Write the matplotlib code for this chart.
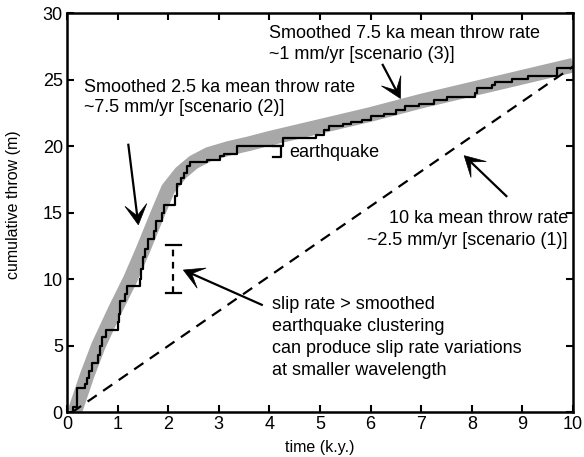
import numpy as np
import matplotlib
matplotlib.use("Agg")
import matplotlib.pyplot as plt
from matplotlib.patches import Polygon

plt.rcParams['font.family'] = ['Liberation Sans', 'DejaVu Sans']

# Earthquake record: event times (k.y.) and cumulative throw after each event (m)
event_time = [0.12, 0.12, 0.20, 0.36, 0.40, 0.44, 0.49, 0.62, 0.66, 0.69, 0.78,
              1.00, 1.02, 1.04, 1.15, 1.19, 1.44, 1.47, 1.50, 1.55, 1.60,
              1.72, 1.76, 1.87, 1.92, 2.13, 2.18, 2.26, 2.32, 2.38, 2.44,
              2.76, 3.02, 3.10, 3.37, 4.26, 4.92, 5.08, 5.18, 5.45, 5.62,
              5.84, 6.00, 6.27, 6.50, 6.69, 6.95, 7.25, 7.51, 8.07, 8.10,
              8.40, 8.45, 8.80, 9.12, 9.68, 10.0]
event_throw = [0.0, 0.4, 1.8, 2.1, 2.6, 3.1, 3.7, 4.3, 5.0, 5.7, 6.2,
               6.8, 7.4, 8.4, 8.9, 9.5, 10.0, 10.8, 11.7, 12.3, 13.0,
               13.6, 14.4, 15.0, 15.6, 16.3, 17.2, 17.6, 18.0, 18.5, 18.8,
               19.0, 19.3, 19.45, 20.0, 20.6, 20.85, 21.2, 21.5, 21.7, 21.85,
               22.0, 22.3, 22.45, 22.75, 23.0, 23.2, 23.5, 23.7, 24.0, 24.35,
               24.6, 24.8, 25.1, 25.3, 25.9, 25.9]

# Smoothed throw history
smooth_time = [0.15, 0.40, 0.62, 0.95, 1.25, 1.50, 1.80, 2.00, 2.25, 2.50,
               2.80, 3.20, 3.60, 4.00, 5.00, 6.00, 7.00, 8.00, 9.00, 10.0]
smooth_throw = [0.0, 2.8, 5.0, 7.7, 10.0, 12.2, 15.0, 16.8, 18.0, 18.8,
                19.4, 19.85, 20.2, 20.6, 21.5, 22.4, 23.4, 24.3, 25.2, 26.1]

# 10 ka mean rate line
mean_time = [0.1, 10.0]
mean_throw = [0.0, 26.0]

# Slip-rate variation bar and single-earthquake bracket
bar_time = 2.1
bar_range = [9.0, 12.6]
quake_time = [4.08, 4.23]
quake_range = [19.2, 20.0]

fig = plt.figure(figsize=(5.84, 4.57), dpi=100)
ax = fig.add_axes([0.1147, 0.0978, 0.8664, 0.873])
ax.set_xlim(0, 10)
ax.set_ylim(0, 30)

ax.plot(smooth_time, smooth_throw, color='#a8a8a8', lw=10.5,
        solid_capstyle='butt', solid_joinstyle='round', zorder=1)
ax.plot(event_time, event_throw, color='black', lw=1.6,
        drawstyle='steps-post', zorder=3)
ax.plot(mean_time, mean_throw, color='black', lw=1.6,
        dashes=(5, 3.5), zorder=2)

# dashed bar with caps
ax.plot([bar_time, bar_time], bar_range, color='black', lw=1.6,
        dashes=(3, 2.5))
for y in bar_range:
    ax.plot([bar_time - 0.15, bar_time + 0.15], [y, y], color='black', lw=1.6)

# bracket marking one earthquake
ax.plot([quake_time[0], quake_time[1], quake_time[1], quake_time[0]],
        [quake_range[1], quake_range[1], quake_range[0], quake_range[0]],
        color='black', lw=1.6)


def arrow(tail, tip, head_len=20, head_half=11, notch=9):
    to_px = ax.transData
    p0 = np.array(to_px.transform(tail))
    p1 = np.array(to_px.transform(tip))
    v = p1 - p0
    u = v / np.hypot(*v)
    n = np.array([-u[1], u[0]])
    base = p1 - u * head_len
    back = p1 - u * notch
    pts_px = [p1, base + n * head_half, back, base - n * head_half]
    inv = ax.transData.inverted()
    pts = inv.transform(pts_px)
    line_end = inv.transform(back + u * 1)
    ax.plot([tail[0], line_end[0]], [tail[1], line_end[1]], color='black',
            lw=1.6, solid_capstyle='butt', zorder=4)
    ax.add_patch(Polygon(pts, closed=True, facecolor='black',
                         edgecolor='black', lw=0.5, zorder=4))


arrow((1.21, 20.2), (1.41, 14.1))
arrow((6.23, 26.2), (6.59, 23.6))
arrow((3.87, 8.05), (2.30, 10.7))
arrow((8.70, 16.2), (7.85, 19.3))

fs = 13
ax.text(4.0, 28.5, 'Smoothed 7.5 ka mean throw rate', fontsize=fs, va='center')
ax.text(4.0, 26.9, '~1 mm/yr [scenario (3)]', fontsize=fs, va='center')
ax.text(0.33, 24.4, 'Smoothed 2.5 ka mean throw rate', fontsize=fs, va='center')
ax.text(0.33, 22.9, '~7.5 mm/yr [scenario (2)]', fontsize=fs, va='center')
ax.text(4.4, 19.55, 'earthquake', fontsize=fs, va='center')
ax.text(9.9, 14.6, '10 ka mean throw rate', fontsize=fs, va='center', ha='right')
ax.text(9.9, 12.95, '~2.5 mm/yr [scenario (1)]', fontsize=fs, va='center',
        ha='right')
slip_lines = ['slip rate > smoothed', 'earthquake clustering',
              'can produce slip rate variations', 'at smaller wavelength']
for i, s in enumerate(slip_lines):
    ax.text(4.05, 8.1 - i * 1.65, s, fontsize=fs, va='center')

ax.set_xticks(range(0, 11))
ax.set_yticks(range(0, 31, 5))
ax.tick_params(direction='in', length=5, width=1.5, labelsize=13,
               top=True, right=True, pad=3)
for sp in ax.spines.values():
    sp.set_linewidth(1.8)
ax.set_xlabel('time (k.y.)', fontsize=11.5)
ax.set_ylabel('cumulative throw (m)', fontsize=11.5)
ax.xaxis.set_label_coords(0.5, -0.07)
ax.yaxis.set_label_coords(-0.09, 0.52)

fig.savefig('out.png', dpi=100)
